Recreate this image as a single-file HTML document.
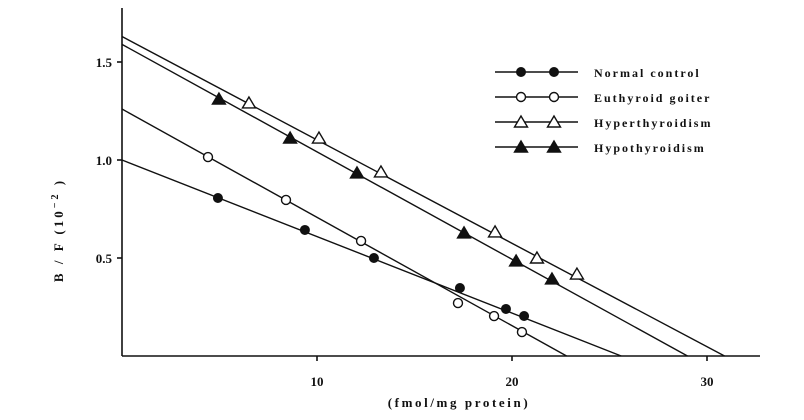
<!DOCTYPE html>
<html><head><meta charset="utf-8"><style>
html,body{margin:0;padding:0;background:#fff;}
svg text{font-family:"Liberation Serif",serif;font-weight:bold;fill:#111;}
</style></head><body>
<svg id="chart" width="804" height="415" viewBox="0 0 804 415" xmlns="http://www.w3.org/2000/svg"></svg>
<script>
const seriesNames=["Normal control","Euthyroid goiter","Hyperthyroidism","Hypothyroidism"];
const markerTypes=["filled-circle","open-circle","open-triangle","filled-triangle"];
const normalX=[4.92,9.38,12.92,17.33,19.69,20.62];
const normalY=[0.806,0.643,0.500,0.347,0.240,0.204];
const euthyX=[4.41,8.41,12.26,17.23,19.08,20.51];
const euthyY=[1.015,0.796,0.587,0.270,0.204,0.122];
const hyperX=[6.51,10.10,13.28,19.13,21.28,23.33];
const hyperY=[1.291,1.112,0.939,0.633,0.500,0.418];
const hypoX=[4.97,8.62,12.05,17.54,20.21,22.05];
const hypoY=[1.311,1.112,0.934,0.628,0.485,0.393];
const lineYIntercepts=[1.0,1.26,1.63,1.59];
const lineXIntercepts=[25.6,22.8,30.9,29.0];
const xTicks=[10,20,30];
const yTicks=[0.5,1.0,1.5];
const yTickLabels=["0.5","1.0","1.5"];

const svg=document.getElementById('chart');
const NS='http://www.w3.org/2000/svg';
const X0=122,Y0=356,XS=19.5,YS=196;
function sx(v){return X0+v*XS;}
function sy(v){return Y0-v*YS;}
function mk(tag,attrs,parent){const e=document.createElementNS(NS,tag);for(const k in attrs)e.setAttribute(k,attrs[k]);(parent||svg).appendChild(e);return e;}

const axes=mk('g',{stroke:'#111','stroke-width':1.6,fill:'none'});


const ya=mk('line',{x1:X0,y1:8,x2:X0,y2:Y0},axes);


const xa=mk('line',{x1:X0,y1:Y0,x2:760,y2:Y0},axes);



xTicks.forEach((t)=>{
  const tk=mk('line',{x1:sx(t),y1:Y0,x2:sx(t),y2:Y0+5},axes);
  
  
  const tl=mk('text',{x:sx(t),y:Y0+30,'text-anchor':'middle','font-size':13});
  tl.textContent=String(t);
  
  
});
yTicks.forEach((t,i)=>{
  const tk=mk('line',{x1:X0-5,y1:sy(t),x2:X0,y2:sy(t)},axes);
  
  
  const tl=mk('text',{x:X0-10,y:sy(t)+5,'text-anchor':'end','font-size':13});
  tl.textContent=yTickLabels[i];
  
  
});

const yt=mk('text',{x:0,y:0,'font-size':13,'letter-spacing':'3','text-anchor':'middle',transform:'translate(63,230) rotate(-90)'});
yt.innerHTML='B / F  (10<tspan dy="-5" font-size="10">−2</tspan><tspan dy="5"> )</tspan>';


const xt=mk('text',{x:459,y:407,'font-size':13,'letter-spacing':'2.6','text-anchor':'middle'});
xt.textContent='(fmol/mg protein)';



function marker(type,x,y,parent){
  let e;
  if(type==='filled-circle') e=mk('circle',{cx:x,cy:y,r:4.5,fill:'#111',stroke:'#111','stroke-width':1},parent);
  else if(type==='open-circle') e=mk('circle',{cx:x,cy:y,r:4.5,fill:'#fff',stroke:'#111','stroke-width':1.4},parent);
  else {
    const p=`${x},${y-6} ${x-6.5},${y+5} ${x+6.5},${y+5}`;
    e=mk('polygon',{points:p,fill:type==='filled-triangle'?'#111':'#fff',stroke:'#111','stroke-width':1.4},parent);
  }
  return e;
}

const xs=[normalX,euthyX,hyperX,hypoX], ys=[normalY,euthyY,hyperY,hypoY];
const slugs=['normal-control','euthyroid-goiter','hyperthyroidism','hypothyroidism'];
for(let s=0;s<4;s++){
  const g=mk('g',{});
  
  
  const ln=mk('line',{x1:sx(0),y1:sy(lineYIntercepts[s]),x2:sx(lineXIntercepts[s]),y2:sy(0),stroke:'#111','stroke-width':1.4},g);
  
  
  for(let i=0;i<xs[s].length;i++){
    const m=marker(markerTypes[s],sx(xs[s][i]),sy(ys[s][i]),g);
    
    
  }
}

const lg=mk('g',{});


for(let s=0;s<4;s++){
  const y=72+s*25;
  const eg=mk('g',{},lg);
  
  
  mk('line',{x1:495,y1:y,x2:578,y2:y,stroke:'#111','stroke-width':1.4},eg);
  marker(markerTypes[s],521,y,eg);
  marker(markerTypes[s],554,y,eg);
  const t=mk('text',{x:594,y:y+5,'font-size':12,'letter-spacing':'2'},eg);
  t.textContent=seriesNames[s];
}
</script>
</body></html>
